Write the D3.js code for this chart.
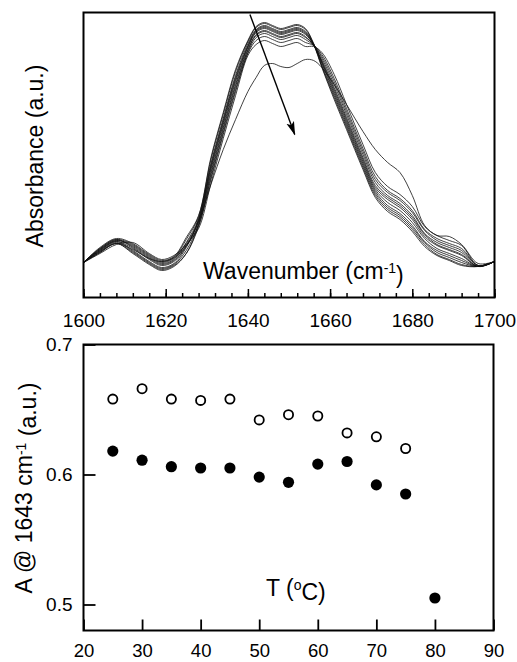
<!DOCTYPE html>
<meta charset="utf-8">

<!-- Load d3.js -->
<script src="https://d3js.org/d3.v7.min.js"></script>

<style>
  body { margin: 0; background: #fff; }
  text { font-family: "Liberation Sans", Arial, sans-serif; fill: #000; }
</style>

<!-- Create a div where the graph will take place -->
<div id="my_dataviz"></div>

<script>
// ---- top panel: FTIR amide I spectra (arbitrary units)
var wavenumber = [1600,1604,1608,1612,1616,1619,1622,1625,1628,1631,1634,1637,1640,1642,1644,1646,1648,1650,1652,1654,1656,1658,1661,1664,1668,1671,1674,1677,1680,1683,1686,1689,1692,1696,1700];

var abs25 = [35,49,58,53,42,36,40,58,81,138,183,226,256,270,274,271,268,270,272,268,253,230,198,168,128,100,86,78,66,51,42,37,32,31,36];
var abs30 = [35,50,59,54,43,37,41,60,82,140,185,228,257,271,275,272,269,271,273,269,254,231,200,170,130,102,88,80,68,53,43,38,33,31,36];
var abs35 = [35,48,57,51,40,34,38,55,79,134,179,222,254,268,272,269,266,268,270,266,253,232,202,172,132,104,90,82,70,55,45,40,35,31,36];
var abs40 = [35,47,56,47,36,30,34,50,78,132,177,220,252,267,271,268,265,267,269,265,253,234,204,174,134,106,92,84,72,56,47,42,37,31,36];
var abs45 = [35,49,58,50,39,33,37,52,77,130,175,218,251,266,270,267,264,266,268,264,253,235,206,176,136,108,95,87,75,59,49,44,39,31,36];
var abs50 = [35,47,56,49,38,32,36,51,76,128,173,216,250,265,269,266,263,265,267,263,253,236,208,178,138,110,98,90,78,61,52,47,42,31,36];
var abs55 = [35,46,55,46,35,29,33,47,74,125,170,213,248,263,267,264,261,263,265,261,252,237,210,180,140,112,100,92,80,63,53,48,43,31,36];
var abs60 = [35,45,54,44,33,27,31,44,73,123,168,211,247,262,266,263,260,262,264,260,253,239,213,183,143,115,102,94,82,64,55,50,45,31,36];
var abs65 = [35,48,57,52,41,35,39,52,72,120,165,208,245,260,264,261,258,260,262,258,252,241,216,186,146,118,105,97,85,67,57,52,47,32,36];
var abs70 = [35,45,54,45,34,28,32,44,71,118,163,206,244,257,261,258,255,257,259,255,252,243,219,189,149,121,107,99,87,68,59,54,49,32,36];
var abs75 = [35,44,53,55,44,38,42,53,69,114,159,202,242,253,257,254,251,253,255,251,251,245,223,193,153,125,111,103,91,71,62,57,52,32,36];
var abs80 = [35,46,54,48,39,36,40,54,76,113,148,178,206,220,232,234,231,230,234,238,237,230,213,193,166,148,135,125,102,72,62,61,53,34,36];

var spectra = [abs25, abs30, abs35, abs40, abs45, abs50, abs55, abs60, abs65, abs70, abs75, abs80];

var waveMajor = [1600, 1620, 1640, 1660, 1680, 1700];
var waveMinor = d3.range(1600, 1701, 4);

// arrow (data coords): from high to low temperature trend
var arrowFrom = [1640.5, 283];
var arrowTo = [1651.4, 163];

// ---- bottom panel: absorbance at 1643 cm-1 vs temperature
var tempOpen = [25, 30, 35, 40, 45, 50, 55, 60, 65, 70, 75];
var absOpen = [0.658, 0.666, 0.658, 0.657, 0.658, 0.642, 0.646, 0.645, 0.632, 0.629, 0.620];
var tempFilled = [25, 30, 35, 40, 45, 50, 55, 60, 65, 70, 75, 80];
var absFilled = [0.618, 0.611, 0.606, 0.605, 0.605, 0.598, 0.594, 0.608, 0.610, 0.592, 0.585, 0.505];

var tempTicks = [20, 30, 40, 50, 60, 70, 80, 90];
var absTicks = [0.5, 0.6, 0.7];

var fontFam = "Liberation Sans, Arial, sans-serif";

// svg
var svg = d3.select("#my_dataviz")
  .append("svg")
  .attr("width", 517)
  .attr("height", 662);

// ================= top panel =================
var boxTop = {left: 83.5, right: 494.5, top: 12.5, bottom: 297.5};

var x = d3.scaleLinear().domain([1600, 1700]).range([boxTop.left, boxTop.right]);
var y = d3.scaleLinear().domain([0, 285]).range([boxTop.bottom, boxTop.top]);

svg.append("clipPath").attr("id", "clipTop")
  .append("rect")
  .attr("x", boxTop.left).attr("y", boxTop.top)
  .attr("width", boxTop.right - boxTop.left).attr("height", boxTop.bottom - boxTop.top);

var line = d3.line()
  .x(function(d, i) { return x(wavenumber[i]); })
  .y(function(d) { return y(d); })
  .curve(d3.curveCatmullRom.alpha(0.5));

svg.append("g")
  .attr("clip-path", "url(#clipTop)")
  .selectAll("path")
  .data(spectra)
  .enter()
  .append("path")
    .attr("d", line)
    .attr("fill", "none")
    .attr("stroke", "#111")
    .attr("stroke-width", 0.8);

// minor ticks
svg.append("g")
  .attr("transform", "translate(0," + boxTop.bottom + ")")
  .call(d3.axisBottom(x).tickValues(waveMinor).tickSize(-4.5).tickFormat(""))
  .call(function(g) { g.select(".domain").remove(); g.selectAll("line").attr("stroke-width", 1.5); });

// major ticks + labels
svg.append("g")
  .attr("transform", "translate(0," + boxTop.bottom + ")")
  .call(d3.axisBottom(x).tickValues(waveMajor).tickSize(-8.5).tickPadding(16.5).tickFormat(d3.format("d")))
  .attr("font-size", 19)
  .attr("font-family", fontFam)
  .call(function(g) { g.select(".domain").remove(); g.selectAll("line").attr("stroke-width", 1.5); });

// frame
svg.append("rect")
  .attr("x", boxTop.left).attr("y", boxTop.top)
  .attr("width", boxTop.right - boxTop.left).attr("height", boxTop.bottom - boxTop.top)
  .attr("fill", "none").attr("stroke", "#000").attr("stroke-width", 2);

// arrow
svg.append("defs").append("marker")
  .attr("id", "head")
  .attr("viewBox", "0 -5 14 10")
  .attr("refX", 13).attr("refY", 0)
  .attr("markerUnits", "userSpaceOnUse")
  .attr("markerWidth", 14).attr("markerHeight", 10)
  .attr("orient", "auto")
  .append("path")
    .attr("d", "M0,-4L14,0L0,4L3,0Z")
    .attr("fill", "#000");

svg.append("line")
  .attr("x1", x(arrowFrom[0])).attr("y1", y(arrowFrom[1]))
  .attr("x2", x(arrowTo[0])).attr("y2", y(arrowTo[1]))
  .attr("stroke", "#000").attr("stroke-width", 1.4)
  .attr("marker-end", "url(#head)");

// x title inside panel
var xt = svg.append("text")
  .attr("x", 203).attr("y", 279)
  .style("font-size", "23px");
xt.append("tspan").text("Wavenumber (cm");
xt.append("tspan").attr("dy", "-0.45em").style("font-size", "14px").text("-1");
xt.append("tspan").attr("dy", "0.45em").text(")");

// y title
svg.append("text")
  .attr("transform", "translate(43,156) rotate(-90)")
  .attr("text-anchor", "middle")
  .style("font-size", "23px")
  .text("Absorbance (a.u.)");

// ================= bottom panel =================
var boxBot = {left: 83.5, right: 493.5, top: 344.5, bottom: 630.5};

var xT = d3.scaleLinear().domain([20, 90]).range([boxBot.left, boxBot.right]);
var yA = d3.scaleLinear().domain([0.48, 0.70]).range([boxBot.bottom, boxBot.top]);

svg.append("g")
  .attr("transform", "translate(0," + boxBot.bottom + ")")
  .call(d3.axisBottom(xT).tickValues(tempTicks).tickSize(-11).tickPadding(13.5).tickFormat(d3.format("d")))
  .attr("font-size", 18.5)
  .attr("font-family", fontFam)
  .call(function(g) { g.select(".domain").remove(); g.selectAll("line").attr("stroke-width", 1.8); });

svg.append("g")
  .attr("transform", "translate(" + boxBot.left + ",0)")
  .call(d3.axisLeft(yA).tickValues(absTicks).tickSize(-12).tickPadding(11).tickFormat(d3.format(".1f")))
  .attr("font-size", 19)
  .attr("font-family", fontFam)
  .call(function(g) { g.select(".domain").remove(); g.selectAll("line").attr("stroke-width", 1.8); });

svg.append("rect")
  .attr("x", boxBot.left).attr("y", boxBot.top)
  .attr("width", boxBot.right - boxBot.left).attr("height", boxBot.bottom - boxBot.top)
  .attr("fill", "none").attr("stroke", "#000").attr("stroke-width", 2);

// open circles
svg.append("g")
  .selectAll("circle")
  .data(absOpen)
  .enter()
  .append("circle")
    .attr("cx", function(d, i) { return xT(tempOpen[i]); })
    .attr("cy", function(d) { return yA(d); })
    .attr("r", 4.6)
    .attr("fill", "#fff")
    .attr("stroke", "#000")
    .attr("stroke-width", 1.8);

// filled circles
svg.append("g")
  .selectAll("circle")
  .data(absFilled)
  .enter()
  .append("circle")
    .attr("cx", function(d, i) { return xT(tempFilled[i]); })
    .attr("cy", function(d) { return yA(d); })
    .attr("r", 5.6)
    .attr("fill", "#000");

// T title
var tt = svg.append("text")
  .attr("x", 266).attr("y", 596)
  .style("font-size", "23px");
tt.append("tspan").text("T (");
tt.append("tspan").attr("dy", "-0.45em").style("font-size", "14px").text("o");
tt.append("tspan").attr("dy", "0.45em").text("C)");

// y title
var yt = svg.append("text")
  .attr("transform", "translate(32,488) rotate(-90)")
  .attr("text-anchor", "middle")
  .style("font-size", "23px");
yt.append("tspan").text("A @ 1643 cm");
yt.append("tspan").attr("dy", "-0.45em").style("font-size", "14px").text("-1");
yt.append("tspan").attr("dy", "0.45em").text(" (a.u.)");
</script>
